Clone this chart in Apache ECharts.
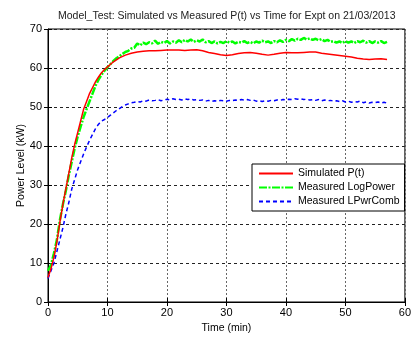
<!DOCTYPE html>
<html>
<head>
<meta charset="utf-8">
<script src="https://cdn.jsdelivr.net/npm/echarts@6/dist/echarts.min.js"></script>
<style>
  html, body { margin: 0; padding: 0; background: #fff; }
  #chart { width: 414px; height: 339px; }
</style>
</head>
<body>
<div id="chart"></div>
<script>
// time axes (min)
var timeSim = [0, 0.5, 1, 1.5, 2, 2.5, 3, 3.5, 4, 4.5, 5, 5.5, 6, 6.5, 7, 7.5, 8, 8.5, 9, 9.5, 10,
  11, 12, 13, 14, 15, 16, 17, 18, 19, 20, 21, 22, 23, 24, 25, 26, 27, 28, 29, 30,
  31, 32, 33, 34, 35, 36, 37, 38, 39, 40, 41, 42, 43, 44, 45, 46, 47, 48, 49, 50,
  51, 52, 53, 54, 55, 56, 57];
var simP = [6.3, 8.5, 11.5, 15.5, 20.5, 25, 29, 33, 37, 40.5, 43.5, 46.5, 49.5, 51.5, 53.5, 55, 56.5, 57.7, 58.8, 59.6, 60.3,
  61.6, 62.6, 63.3, 63.8, 64.1, 64.3, 64.4, 64.4, 64.5, 64.6, 64.6, 64.6, 64.5, 64.6, 64.7, 64.4, 64.0, 63.7, 63.4, 63.2,
  63.4, 63.7, 63.9, 64.0, 63.8, 63.5, 63.3, 63.5, 63.8, 64.0, 63.9, 63.9, 64.0, 64.1, 64.1, 63.8, 63.6, 63.4, 63.2, 63.0,
  62.8, 62.5, 62.3, 62.2, 62.3, 62.4, 62.2];

var timeMeas = [];
for (var t = 0; t <= 57; t += 0.5) timeMeas.push(t);

var logPower = [8, 9.5, 12.5, 16, 21, 25, 28.5, 32.5, 36, 39.5, 42.5, 45, 47.5, 49.5, 51.5, 53.5, 55.5, 57, 58.3, 59.3,
  60.2, 61, 61.8, 62.5, 63, 63.6, 64.1, 64.4, 65, 65.2,
  66.3, 65.8, 66.5, 66.1, 66.6, 66.3, 67.0, 66.2, 66.7, 66.4, 66.9, 66.3, 66.8, 66.5, 67.1, 66.6, 67.2, 66.8, 67.3, 66.7,
  67.1, 66.8, 67.3, 66.6, 66.9, 66.4, 66.8, 66.3, 66.7, 66.4, 66.9, 66.5, 66.8, 66.3, 66.7, 66.5, 66.9, 66.4, 66.7, 66.3,
  66.8, 66.5, 67.0, 66.6, 66.8, 66.4, 66.9, 66.6, 67.1, 66.7, 67.2, 66.9, 67.4, 67.0, 67.5, 67.2, 67.7, 67.3, 67.6, 67.2,
  67.5, 67.1, 67.4, 66.9, 67.2, 66.7, 66.9, 66.5, 66.8, 66.4, 66.9, 66.5, 66.8, 66.4, 66.9, 66.6, 67.0, 66.5, 66.9, 66.4,
  66.8, 66.5, 66.9, 66.4, 66.7];

var lpwrComb = [6, 8, 10, 13, 16, 19, 22.5, 25.5, 29, 31.5, 34, 36, 38, 39.8, 41.5, 43, 44.5, 45.6, 46.4, 46.8,
  47.3, 47.9, 48.5, 49.1, 49.6, 50.1, 50.5, 50.8, 51.1, 51.2,
  51.4, 51.3, 51.6, 51.5, 51.8, 51.6, 51.7, 51.9, 51.6, 51.8, 52.0, 51.8, 52.1, 51.9, 52.0, 51.8, 52.1, 51.9, 52.1, 51.8,
  51.9, 51.7, 51.8, 51.5, 51.7, 51.4, 51.6, 51.5, 51.7, 51.6, 51.5, 51.7, 51.6, 51.8, 51.7, 51.9, 51.8, 51.9, 51.7, 51.8,
  51.5, 51.6, 51.4, 51.6, 51.5, 51.7, 51.6, 51.8, 51.7, 51.9, 51.8, 52.0, 51.9, 52.1, 52.0, 52.1, 51.9, 52.0, 51.8, 51.9,
  51.7, 51.9, 51.6, 51.8, 51.6, 51.7, 51.5, 51.6, 51.4, 51.6, 51.3, 51.5, 51.2, 51.4, 51.3, 51.5, 51.1, 51.3, 51.0, 51.2,
  51.1, 51.3, 51.0, 51.2, 51.0];

function pairs(ts, vs) {
  return ts.map(function (t, i) { return [t, vs[i]]; });
}

var chart = echarts.init(document.getElementById('chart'));
var font = 'Liberation Sans, Arial, sans-serif';

var option = {
  animation: false,
  backgroundColor: '#fff',
  title: {
    text: 'Model_Test: Simulated vs Measured P(t) vs Time for Expt on 21/03/2013',
    left: 53,
    top: 6,
    textStyle: { fontFamily: font, fontSize: 10.5, fontWeight: 'normal', color: '#222' }
  },
  grid: { left: 48, right: 7, top: 29, bottom: 29, show: true, borderColor: '#000', borderWidth: 1, backgroundColor: '#fff' },
  legend: {
    orient: 'vertical',
    left: 252,
    top: 164,
    backgroundColor: '#fff',
    borderColor: '#000',
    borderWidth: 1,
    borderRadius: 0,
    padding: [4, 5, 4, 6],
    itemWidth: 34,
    itemHeight: 10,
    itemGap: 3,
    itemStyle: { opacity: 0 },
    textStyle: { fontFamily: font, fontSize: 10.5, color: '#000' },
    data: ['Simulated P(t)', 'Measured LogPower', 'Measured LPwrComb']
  },
  xAxis: [{
    type: 'value',
    min: 0, max: 60, interval: 10,
    name: 'Time (min)',
    nameLocation: 'middle',
    nameGap: 21,
    nameMoveOverlap: false,
    nameTextStyle: { fontFamily: font, fontSize: 10.5, color: '#000' },
    axisLine: { lineStyle: { color: '#000' } },
    axisTick: { inside: true, length: 4, lineStyle: { color: '#000' } },
    axisLabel: { fontFamily: font, fontSize: 11, color: '#000', margin: 5 },
    splitLine: { show: true, lineStyle: { color: '#666', type: [2, 2], width: 1 } }
  }, {
    type: 'value', position: 'top', min: 0, max: 60, interval: 10,
    axisLine: { show: false },
    axisTick: { inside: true, length: 4, lineStyle: { color: '#000' } },
    axisLabel: { show: false }, splitLine: { show: false }
  }],
  yAxis: [{
    type: 'value',
    min: 0, max: 70, interval: 10,
    name: 'Power Level (kW)',
    nameLocation: 'middle',
    nameGap: 21,
    nameMoveOverlap: false,
    nameTextStyle: { fontFamily: font, fontSize: 10.5, color: '#000' },
    axisLine: { show: true, lineStyle: { color: '#000' } },
    axisTick: { show: true, inside: true, length: 4, lineStyle: { color: '#000' } },
    axisLabel: { fontFamily: font, fontSize: 11, color: '#000', margin: 6 },
    splitLine: { show: true, lineStyle: { color: '#222', type: [3, 3], width: 1 } }
  }, {
    type: 'value', position: 'right', min: 0, max: 70, interval: 10,
    axisLine: { show: false },
    axisTick: { show: true, inside: true, length: 4, lineStyle: { color: '#000' } },
    axisLabel: { show: false }, splitLine: { show: false }
  }],
  series: [{
    name: 'Simulated P(t)',
    type: 'line',
    symbol: 'none',
    color: '#ff0000',
    lineStyle: { color: '#ff0000', width: 1.5 },
    data: pairs(timeSim, simP),
    z: 3
  }, {
    name: 'Measured LogPower',
    type: 'line',
    symbol: 'none',
    color: '#00ff00',
    lineStyle: { color: '#00ff00', width: 2.5, type: [8, 1.5, 2, 1.5] },
    data: pairs(timeMeas, logPower),
    z: 2
  }, {
    name: 'Measured LPwrComb',
    type: 'line',
    symbol: 'none',
    color: '#0000ff',
    lineStyle: { color: '#0000ff', width: 1.5, type: [4, 3] },
    data: pairs(timeMeas, lpwrComb),
    z: 2
  }]
};
chart.setOption(option);
</script>
</body>
</html>
